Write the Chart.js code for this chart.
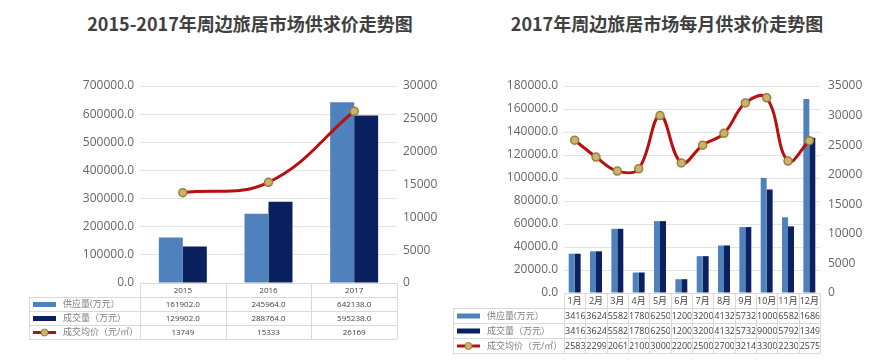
<!DOCTYPE html>
<html>
<head>
<meta charset="utf-8">
<script src="https://cdn.jsdelivr.net/npm/chart.js@4.4.1/dist/chart.umd.min.js"></script>
<style>
  body { margin: 0; background: #fff; width: 880px; height: 364px; position: relative; overflow: hidden; font-family: 'Noto Sans CJK SC', sans-serif; }
  .title { position: absolute; top: 11px; font-size: 18px; font-weight: bold; color: #404040; white-space: nowrap; transform: translateX(-50%); line-height: 24px; }
  canvas { position: absolute; top: 0; }
</style>
</head>
<body>
<div class="title" style="left:250px">2015-2017年周边旅居市场供求价走势图</div>
<div class="title" style="left:667px">2017年周边旅居市场每月供求价走势图</div>
<canvas id="yearChart" width="440" height="364" style="left:0"></canvas>
<canvas id="monthChart" width="440" height="364" style="left:440px"></canvas>
<script>
// yearly data
const yearLabels = ['2015', '2016', '2017'];
const yearSupply = [161902, 245964, 642138];
const yearDeal = [129902, 288764, 595238];
const yearPrice = [13749, 15333, 26169];

// monthly data 2017
const monthLabels = ['1月', '2月', '3月', '4月', '5月', '6月', '7月', '8月', '9月', '10月', '11月', '12月'];
const monthSupply = [34163, 36245, 55821, 17806, 62501, 12003, 32004, 41325, 57321, 100065, 65821, 168600];
const monthDeal = [34163, 36245, 55821, 17806, 62501, 12003, 32004, 41325, 57321, 90006, 57921, 134900];
const monthPrice = [25830, 22990, 20610, 21000, 30000, 22000, 25000, 27000, 32140, 33000, 22300, 25750];

const seriesNames = ['供应量(万元）', '成交量（万元）', '成交均价（元/㎡）'];

const LIGHT = '#4F81BD', NAVY = '#0B215F', RED = '#B80F0F', DOT = '#C9B46C', DOT_EDGE = '#9E7B3E';
const NUM_FONT = "'Open Sans', 'Noto Sans CJK SC', sans-serif";

// draws the excel-like data table under the plot, columns taken from the x scale
const dataTable = {
  id: 'dataTable',
  afterDraw(chart, args, o) {
    const { ctx, chartArea: a, scales: { x } } = chart;
    const labels = chart.data.labels;
    const sets = chart.data.datasets;
    const cw = (a.right - a.left) / labels.length;
    const rh = o.rowHeight;
    const top = a.bottom;
    const bottom = top + rh * (sets.length + 1);
    const px = v => Math.round(v) + 0.5;

    ctx.save();
    ctx.strokeStyle = '#D9D9D9';
    ctx.lineWidth = 1;
    for (let r = 0; r <= sets.length + 1; r++) {
      const y = px(top + r * rh);
      ctx.beginPath();
      ctx.moveTo(r === 0 ? a.left : o.left, y);
      ctx.lineTo(a.right, y);
      ctx.stroke();
    }
    for (let i = 0; i <= labels.length; i++) {
      const xx = px(a.left + i * cw);
      ctx.beginPath();
      ctx.moveTo(xx, top);
      ctx.lineTo(xx, bottom);
      ctx.stroke();
    }
    ctx.beginPath();
    ctx.moveTo(px(o.left), top + rh);
    ctx.lineTo(px(o.left), bottom);
    ctx.stroke();

    ctx.textBaseline = 'middle';
    ctx.fillStyle = '#404040';
    ctx.font = o.fontSize + 'px ' + NUM_FONT;
    ctx.textAlign = 'center';
    labels.forEach((l, i) => ctx.fillText(l, x.getPixelForValue(i), top + rh / 2 + 0.5));

    sets.forEach((d, r) => {
      const y = top + (r + 1.5) * rh + 0.5;
      // legend key
      if (d.type === 'line') {
        ctx.strokeStyle = d.borderColor;
        ctx.lineWidth = 3;
        ctx.beginPath();
        ctx.moveTo(o.left + 4, y);
        ctx.lineTo(o.left + 27, y);
        ctx.stroke();
        ctx.beginPath();
        ctx.arc(o.left + 15.5, y, 3.5, 0, Math.PI * 2);
        ctx.fillStyle = DOT;
        ctx.fill();
        ctx.lineWidth = 1;
        ctx.strokeStyle = DOT_EDGE;
        ctx.stroke();
      } else {
        ctx.fillStyle = d.backgroundColor;
        ctx.fillRect(o.left + 4, y - 2.5, 23, 5);
      }
      ctx.fillStyle = '#7F7F7F';
      ctx.textAlign = 'left';
      ctx.font = '9px ' + NUM_FONT;
      ctx.fillText(d.label, o.left + 34, y);

      // values, clipped to their cell like the original table
      ctx.fillStyle = '#404040';
      ctx.font = o.fontSize + 'px ' + NUM_FONT;
      d.data.forEach((v, i) => {
        const txt = o.formats[r](v);
        const cx = x.getPixelForValue(i);
        const w = ctx.measureText(txt).width;
        ctx.save();
        ctx.beginPath();
        ctx.rect(cx - cw / 2 + 1, y - rh / 2, cw - 1.5, rh);
        ctx.clip();
        if (w > cw - 2) {
          ctx.textAlign = 'left';
          ctx.fillText(txt, cx - cw / 2 + 1, y);
        } else {
          ctx.textAlign = 'center';
          ctx.fillText(txt, cx, y);
        }
        ctx.restore();
      });
    });
    ctx.restore();
  }
};

function makeChart(id, labels, supply, deal, price, o) {
  const tickFont = { size: 12, family: NUM_FONT };
  return new Chart(document.getElementById(id), {
    type: 'bar',
    data: {
      labels: labels,
      datasets: [
        { label: seriesNames[0], data: supply, backgroundColor: LIGHT, yAxisID: 'y', order: 2 },
        { label: seriesNames[1], data: deal, backgroundColor: NAVY, yAxisID: 'y', order: 2 },
        {
          type: 'line', label: seriesNames[2], data: price, yAxisID: 'y1', order: 1,
          borderColor: RED, borderWidth: 3, tension: 0.4,
          pointRadius: 4, pointBackgroundColor: DOT, pointBorderColor: DOT_EDGE, pointBorderWidth: 1.5
        }
      ]
    },
    options: {
      responsive: false,
      animation: false,
      devicePixelRatio: 1,
      layout: { padding: { top: 86, bottom: o.bottom } },
      datasets: { bar: { categoryPercentage: 0.56, barPercentage: 1 } },
      plugins: {
        legend: { display: false },
        tooltip: { enabled: false },
        dataTable: { rowHeight: o.rowHeight, left: o.tableLeft, fontSize: o.tableFont,
          formats: [v => v.toFixed(1), v => v.toFixed(1), v => String(v)] }
      },
      scales: {
        x: { display: false },
        y: {
          position: 'left', min: 0, max: o.yMax,
          ticks: { stepSize: o.yStep, padding: 6, color: '#666666', font: tickFont, callback: v => v.toFixed(1) },
          grid: { color: '#E3E3E3', drawTicks: false },
          border: { display: false },
          afterFit(s) { s.width = o.leftW; }
        },
        y1: {
          position: 'right', min: 0, max: o.y1Max,
          ticks: { stepSize: 5000, padding: o.rightPad, color: '#666666', font: tickFont, callback: v => String(v) },
          grid: { display: false, drawTicks: false },
          border: { display: false },
          afterFit(s) { s.width = o.rightW; }
        }
      }
    },
    plugins: [dataTable]
  });
}

makeChart('yearChart', yearLabels, yearSupply, yearDeal, yearPrice, {
  bottom: 81, leftW: 140, rightW: 43, rightPad: 6, yMax: 700000, yStep: 100000, y1Max: 30000,
  rowHeight: 14, tableLeft: 29, tableFont: 8
});
makeChart('monthChart', monthLabels, monthSupply, monthDeal, monthPrice, {
  bottom: 71, leftW: 124, rightW: 60, rightPad: 8, yMax: 180000, yStep: 20000, y1Max: 35000,
  rowHeight: 15, tableLeft: 13, tableFont: 9
});
</script>
</body>
</html>
